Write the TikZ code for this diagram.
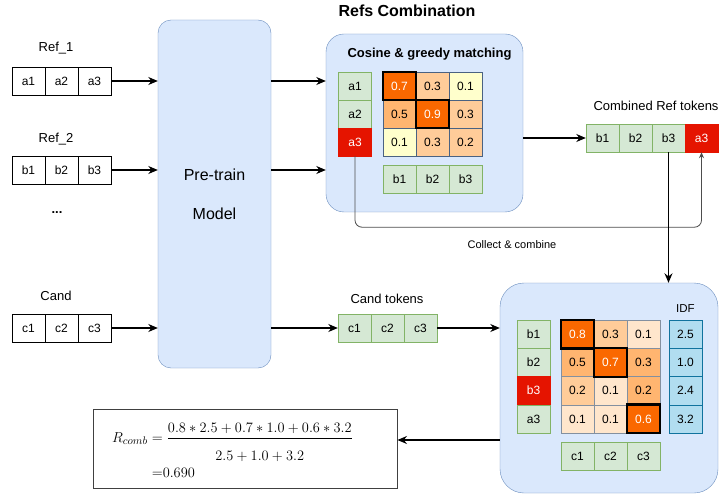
\documentclass[tikz,border=0pt]{standalone}
\usepackage[no-math]{fontspec}
\setmainfont{Liberation Sans}
\usepackage{amsmath}
\usetikzlibrary{arrows.meta,calc}

\definecolor{panelfill}{HTML}{DAE8FC}
\definecolor{panelline}{HTML}{6C8EBF}
\definecolor{tokfill}{HTML}{D5E8D4}
\definecolor{tokline}{HTML}{82B366}
\definecolor{hotred}{HTML}{E51400}
\definecolor{simhi}{HTML}{FA6800}
\definecolor{simmid}{HTML}{FFB570}
\definecolor{simlow}{HTML}{FFCC99}
\definecolor{simpale}{HTML}{FFE6CC}
\definecolor{simyel}{HTML}{FFFFCC}
\definecolor{idffill}{HTML}{B1DDF0}
\definecolor{idfline}{HTML}{10739E}
\definecolor{gridA}{HTML}{4A6282}
\definecolor{gridB}{HTML}{8390A0}
\definecolor{linkgray}{HTML}{4D4D4D}

\tikzset{
  base/.style={rectangle, minimum width=33pt, minimum height=28pt, inner sep=0pt,
               font=\fontsize{12}{14}\selectfont},
  tok/.style={base, draw=black, fill=white},
  gtok/.style={base, draw=tokline, fill=tokfill},
  rtok/.style={base, draw=hotred, fill=hotred, text=white},
  cellA/.style={base, draw=gridA},
  cellB/.style={base, draw=gridB, minimum height=28.3pt},
  idfcell/.style={base, draw=idfline, fill=idffill, minimum height=28.3pt},
  hibox/.style={draw=black, line width=2.4pt},
  panel/.style={draw=panelline, fill=panelfill},
  arr/.style={-{Stealth[length=9.5pt,width=8pt]}, line width=1.3pt},
  collect/.style={-{Stealth[length=6pt,width=5pt]}, line width=0.8pt, draw=linkgray},
  lbl/.style={font=\fontsize{13}{15}\selectfont},
}

\begin{document}
\begin{tikzpicture}[x=1pt,y=-1pt]
\fill[white] (0,0) rectangle (720,497);
\useasboundingbox (0,0) rectangle (720,497);

% ---------- inputs ----------
\node[lbl] (lref1) at (56,48) {Ref\_1};
\foreach \t [count=\i] in {a1,a2,a3}
  \node[tok] (r1-\i) at ({28.5+33*(\i-1)},81) {\t};
\node[lbl] (lref2) at (56,139) {Ref\_2};
\foreach \t [count=\i] in {b1,b2,b3}
  \node[tok] (r2-\i) at ({28.5+33*(\i-1)},170) {\t};
\node[font=\fontsize{13}{15}\selectfont\bfseries] (dots) at (57,213) {...};
\node[lbl] (lcand) at (56,296) {Cand};
\foreach \t [count=\i] in {c1,c2,c3}
  \node[tok] (c-\i) at ({28.5+33*(\i-1)},328) {\t};

% ---------- encoder ----------
\node[panel, rounded corners=13pt, minimum width=113pt, minimum height=348pt,
      align=center, font=\fontsize{16}{19}\selectfont] (pre) at (214.5,194)
      {Pre-train\\[20pt]Model};

% ---------- reference combination ----------
\node[font=\fontsize{16}{19}\selectfont\bfseries] (title) at (407,11) {Refs Combination};
\node[panel, rounded corners=18pt, minimum width=197pt, minimum height=178pt] (p1) at (424.5,123) {};
\node[font=\fontsize{13}{15}\selectfont\bfseries] (cosine) at (429.5,54) {Cosine \& greedy matching};

\node[gtok] (pa-1) at (355,86) {a1};
\node[gtok] (pa-2) at (355,114) {a2};
\node[rtok] (pa-3) at (355,142) {a3};
\foreach \v/\c/\f [count=\k from 0] in
  {0.7/simhi/white,0.3/simlow/black,0.1/simyel/black,
   0.5/simmid/black,0.9/simhi/white,0.3/simlow/black,
   0.1/simyel/black,0.3/simlow/black,0.2/simlow/black}
{
  \pgfmathtruncatemacro\rr{div(\k,3)}
  \pgfmathtruncatemacro\cc{mod(\k,3)}
  \node[cellA, fill=\c, text=\f] (sa-\rr\cc) at ({399.5+33*\cc},{86+28*\rr}) {\v};
}
\draw[hibox] (sa-00.north west) rectangle (sa-00.south east);
\draw[hibox] (sa-11.north west) rectangle (sa-11.south east);
\foreach \t [count=\i] in {b1,b2,b3}
  \node[gtok] (pb-\i) at ({399.5+33*(\i-1)},179.5) {\t};

% ---------- combined reference ----------
\node[lbl] (lcomb) at (656,106) {Combined Ref tokens};
\node[gtok] (comb-1) at (602.5,138) {b1};
\node[gtok] (comb-2) at (635.5,138) {b2};
\node[gtok] (comb-3) at (668.5,138) {b3};
\node[rtok] (comb-4) at (701.5,138) {a3};

% ---------- candidate tokens ----------
\node[lbl] (lct) at (387,299) {Cand tokens};
\foreach \t [count=\i] in {c1,c2,c3}
  \node[gtok] (ct-\i) at ({354.5+33*(\i-1)},328) {\t};

% ---------- scoring against the combined reference ----------
\node[panel, rounded corners=24pt, minimum width=218pt, minimum height=210pt] (p2) at (609,388) {};
\node[gtok] (q-1) at (533.5,334.1) {b1};
\node[gtok] (q-2) at (533.5,362.4) {b2};
\node[rtok] (q-3) at (533.5,390.6) {b3};
\node[gtok] (q-4) at (533.5,418.9) {a3};
\foreach \v/\c/\f [count=\k from 0] in
  {0.8/simhi/white,0.3/simlow/black,0.1/simpale/black,
   0.5/simmid/black,0.7/simhi/white,0.3/simmid/black,
   0.2/simlow/black,0.1/simpale/black,0.2/simmid/black,
   0.1/simpale/black,0.1/simpale/black,0.6/simhi/white}
{
  \pgfmathtruncatemacro\rr{div(\k,3)}
  \pgfmathtruncatemacro\cc{mod(\k,3)}
  \node[cellB, fill=\c, text=\f] (sb-\rr\cc) at ({577.5+33*\cc},{334.1+28.27*\rr}) {\v};
}
\draw[hibox] (sb-00.north west) rectangle (sb-00.south east);
\draw[hibox] (sb-11.north west) rectangle (sb-11.south east);
\draw[hibox] (sb-32.north west) rectangle (sb-32.south east);
\foreach \t [count=\i] in {c1,c2,c3}
  \node[gtok] (qc-\i) at ({577.5+33*(\i-1)},456.5) {\t};
\node[font=\fontsize{11.5}{13}\selectfont] (lidf) at (685.5,309) {IDF};
\foreach \v [count=\i from 0] in {2.5,1.0,2.4,3.2}
  \node[idfcell] (idf-\i) at (685.5,{334.1+28.27*\i}) {\v};

% ---------- result ----------
\node[draw=black!75, line width=0.9pt, minimum width=304pt, minimum height=79pt] (fbox) at (245,448.5) {};
\node[anchor=base west, inner sep=0pt, font=\fontsize{15.5}{18}\selectfont] (eqa) at (112,442)
  {$R_{comb} = \dfrac{0.8*2.5+0.7*1.0+0.6*3.2}{\rule{0pt}{19.7pt}2.5+1.0+3.2}$};
\node[anchor=base west, inner sep=0pt, font=\fontsize{15.5}{18}\selectfont] (eqb) at (112,477)
  {$\phantom{R_{comb}}\;{=}0.690$};

% ---------- connectors ----------
\draw[arr] (r1-3.east) -- (pre.west |- r1-3.east);
\draw[arr] (r2-3.east) -- (pre.west |- r2-3.east);
\draw[arr] (c-3.east) -- (pre.west |- c-3.east);
\draw[arr] (pre.east |- r1-3.east) -- (p1.west |- r1-3.east);
\draw[arr] (pre.east |- r2-3.east) -- (p1.west |- r2-3.east);
\draw[arr] (pre.east |- ct-1.west) -- (ct-1.west);
\draw[arr] (p1.east |- comb-1.west) -- (comb-1.west);
\draw[collect, rounded corners=7pt] (pa-3.south) |- ($(comb-4.south)+(0,75)$) -- (comb-4.south);
\node[font=\fontsize{11}{13}\selectfont] (lcollect) at (512,245) {Collect \& combine};
\draw[arr] (comb-3.south) -- (comb-3.south |- p2.north);
\draw[arr] (ct-3.east) -- (p2.west |- ct-3.east);
\draw[arr] ([yshift=8.5pt]fbox.east -| p2.west) -- ([yshift=8.5pt]fbox.east);
\end{tikzpicture}
\end{document}
